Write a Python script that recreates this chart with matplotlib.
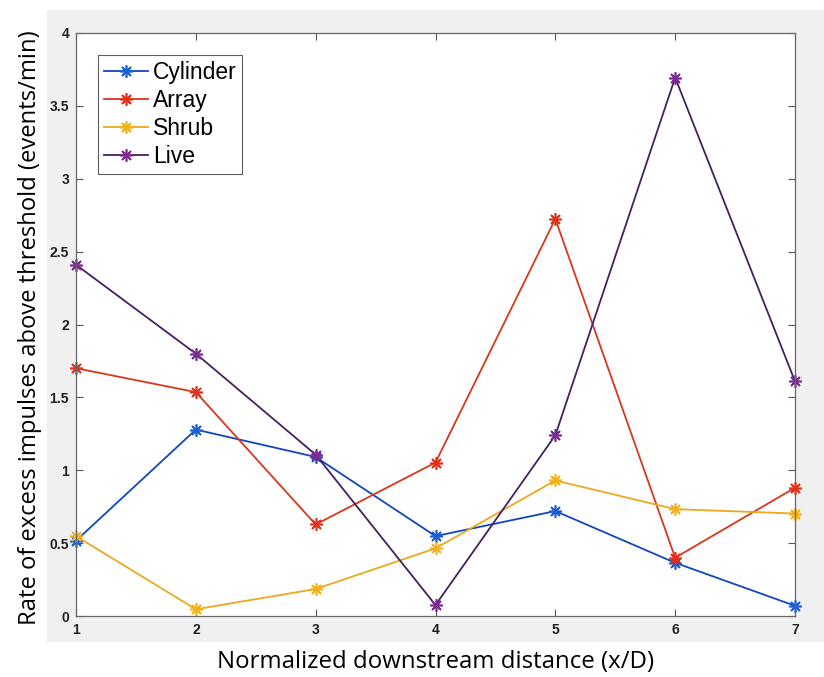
import matplotlib
matplotlib.use("Agg")
import matplotlib.pyplot as plt
from matplotlib.patches import Rectangle

x = [1, 2, 3, 4, 5, 6, 7]
cylinder = [0.516, 1.279, 1.091, 0.548, 0.72, 0.365, 0.07]
array_ = [1.70, 1.536, 0.628, 1.053, 2.724, 0.40, 0.88]
shrub = [0.548, 0.046, 0.185, 0.464, 0.93, 0.733, 0.703]
live = [2.41, 1.80, 1.107, 0.075, 1.24, 3.694, 1.61]
names = ["Cylinder", "Array", "Shrub", "Live"]
yticks = [0, 0.5, 1, 1.5, 2, 2.5, 3, 3.5, 4]
ytick_labels = ["0", "0.5", "1", "1.5", "2", "2.5", "3", "3.5", "4"]

W, H = 824, 677
fig = plt.figure(figsize=(W / 100, H / 100), dpi=100)
fig.patch.set_facecolor("white")
bg = Rectangle((47 / W, 1 - 642 / H), 1 - 47 / W, (642 - 10) / H,
               transform=fig.transFigure, facecolor="#f0f0f0",
               edgecolor="none", zorder=-10)
fig.add_artist(bg)

ax = fig.add_axes([76 / W, 1 - 616 / H, (795 - 76) / W, (616 - 33) / H])
ax.set_zorder(5)
ax.set_facecolor("white")

line_colors = ["#1146c0", "#d8371c", "#eba91e", "#43205f"]
marker_colors = ["#1a5fd6", "#e0321a", "#f2b21e", "#7a2a90"]
series = [cylinder, array_, shrub, live]
for s, n, lc, mc in zip(series, names, line_colors, marker_colors):
    ax.plot(x, s, color=lc, lw=1.3, marker=(8, 2, 0), markersize=9,
            markeredgecolor=mc, markerfacecolor=mc, markeredgewidth=1.2,
            label=n, clip_on=False)

ax.set_xlim(1, 7)
ax.set_ylim(0, 4)
ax.set_xticks(x)
ax.set_yticks(yticks)
ax.set_yticklabels(ytick_labels)
ax.tick_params(direction="in", length=5, width=0.8, color="#555555",
               top=True, right=True, labelsize=10, labelcolor="#222222", pad=5)
for lab in ax.get_xticklabels() + ax.get_yticklabels():
    lab.set_fontweight("bold")
    lab.set_family("Liberation Sans")
for sp in ax.spines.values():
    sp.set_color("#666666")
    sp.set_linewidth(0.9)
    sp.set_zorder(10)

leg = ax.legend(loc="upper left", bbox_to_anchor=(22 / (795 - 76), 1 - 22 / (616 - 33)),
                fontsize=16.5, frameon=True, fancybox=False, edgecolor="#333333",
                handlelength=1.95, handletextpad=0.2, borderpad=0.25, labelspacing=0.22,
                borderaxespad=0)
leg.get_frame().set_linewidth(0.8)
for t in leg.get_texts():
    t.set_family("Liberation Sans")

fig.text(436 / W, 1 - 662 / H, "Normalized downstream distance (x/D)",
         ha="center", va="center", fontsize=17.3, family="Open Sans")
fig.text(30 / W, 1 - 328 / H, "Rate of excess impulses above threshold (events/min)",
         ha="center", va="center", rotation=90, fontsize=17.1, family="Open Sans")

fig.savefig("out.png", dpi=100)
